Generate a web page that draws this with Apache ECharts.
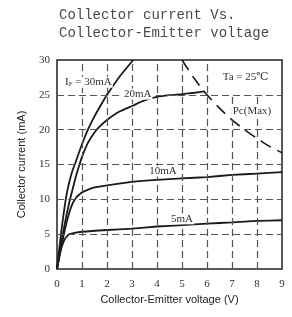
<!DOCTYPE html>
<html>
<head>
<meta charset="utf-8">
<script src="https://cdn.jsdelivr.net/npm/echarts@6/dist/echarts.min.js"></script>
<style>
  html, body { margin: 0; padding: 0; background: #fff; }
  #main { width: 292px; height: 317px; }
</style>
</head>
<body>
<div id="main"></div>
<script>
// Ic - Vce curves
var curve30 = [[0, 0], [0.1, 3.2], [0.2, 6.2], [0.3, 8.8], [0.4, 11], [0.5, 12.6], [0.6, 13.9], [0.75, 15.4], [1.0, 17.9], [1.25, 20.1], [1.5, 21.9], [1.75, 23.5], [2.0, 25], [2.5, 27.6], [3.05, 30]];
var curve20 = [[0, 0], [0.1, 2.2], [0.2, 4.3], [0.3, 6.3], [0.4, 8.1], [0.5, 9.7], [0.6, 11.1], [0.75, 13.2], [0.9, 15], [1.0, 16.1], [1.25, 18.2], [1.5, 19.6], [1.75, 20.6], [2.0, 21.4], [2.5, 22.6], [3.0, 23.4], [3.5, 24.2], [4.0, 24.7], [4.5, 24.95], [5.0, 25.1], [5.5, 25.3], [5.9, 25.5]];
var curve10 = [[0, 0], [0.1, 1.9], [0.2, 3.7], [0.3, 5.4], [0.4, 6.9], [0.5, 8.2], [0.6, 9.2], [0.7, 9.9], [0.8, 10.4], [0.9, 10.7], [1, 11], [1.25, 11.4], [1.5, 11.7], [2, 12], [3, 12.5], [4, 12.8], [5, 13], [6, 13.2], [7, 13.5], [8, 13.7], [9, 13.9]];
var curve5 = [[0, 0], [0.05, 1], [0.1, 1.9], [0.15, 2.7], [0.2, 3.3], [0.3, 4.2], [0.4, 4.7], [0.5, 5.0], [0.7, 5.2], [1, 5.35], [2, 5.6], [3, 5.8], [4, 6.1], [5, 6.3], [6, 6.5], [7, 6.7], [8, 6.9], [9, 7.0]];
var pcMax = [[5, 30], [5.5, 27.3], [6, 25], [6.5, 23.1], [7, 21.4], [7.5, 20], [8, 18.75], [8.5, 17.6], [9, 16.7]];

// dashed grid: vertical lines and where they stop at the top
var gridX = [1, 2, 3, 4, 5, 6, 7, 8];
var gridXTop = [30, 30, 30, 30, 30, 30, 25, 25];
var gridY = [5, 10, 15, 20, 25];

var serif = '"Liberation Serif", "DejaVu Serif", serif';
var sans = '"Liberation Sans", Arial, sans-serif';

var myChart = echarts.init(document.getElementById('main'));

var gridStyle = { color: '#555', type: [7, 4], width: 1.2 };
var vLines = gridX.map(function (x, i) {
    return [{ coord: [x, 0] }, { coord: [x, gridXTop[i]] }];
});
var hLines = gridY.map(function (y) {
    return [{ coord: [0, y] }, { coord: [9, y] }];
});

function curve(data) {
    return {
        type: 'line',
        data: data,
        smooth: 0.2,
        showSymbol: false,
        lineStyle: { color: '#1a1a1a', width: 1.8 },
        z: 3
    };
}

myChart.setOption({
    backgroundColor: '#ffffff',
    animation: false,
    grid: {
        left: 57, right: 10, top: 60, bottom: 48,
        show: true, borderColor: '#222', borderWidth: 1.5
    },
    xAxis: {
        type: 'value', min: 0, max: 9, interval: 1,
        name: 'Collector-Emitter voltage (V)',
        nameLocation: 'middle', nameGap: 24,
        nameTextStyle: { fontFamily: sans, fontSize: 11, color: '#222' },
        axisLine: { show: false },
        axisTick: { show: false },
        splitLine: { show: false },
        axisLabel: { fontFamily: serif, fontSize: 11, color: '#333', margin: 10 }
    },
    yAxis: {
        type: 'value', min: 0, max: 30, interval: 5,
        name: 'Collector current (mA)',
        nameLocation: 'middle', nameGap: 30,
        nameTextStyle: { fontFamily: sans, fontSize: 11, color: '#222' },
        axisLine: { show: false },
        axisTick: { show: false },
        splitLine: { show: false },
        axisLabel: { fontFamily: serif, fontSize: 11, color: '#333', margin: 7 }
    },
    series: [
        {
            type: 'line', data: [], z: 1,
            markLine: {
                silent: true, symbol: 'none', label: { show: false },
                lineStyle: gridStyle,
                data: vLines.concat(hLines)
            }
        },
        curve(curve30),
        curve(curve20),
        curve(curve10),
        curve(curve5),
        {
            type: 'line',
            data: pcMax,
            smooth: 0.3,
            showSymbol: false,
            lineStyle: { color: '#1a1a1a', width: 1.6, type: [12, 7] },
            z: 3
        }
    ]
});

// curve labels placed in data space (left edge, vertical centre)
var labels = [
    { at: [0.28, 26.8], text: '{b|I}{s|F}{b| = 30mA}' },
    { at: [2.64, 25.1], text: '{b|20mA}' },
    { at: [3.65, 14.05], text: '{b|10mA}' },
    { at: [4.52, 7.2], text: '{b|5mA}' },
    { at: [6.59, 27.6], text: '{b|Ta = 25℃}' },
    { at: [6.99, 22.7], text: '{b|Pc(Max)}' }
];
var rich = {
    b: { fontFamily: serif, fontSize: 11, fill: '#333' },
    s: { fontFamily: serif, fontSize: 7, fill: '#333', padding: [4, 0, 0, 0] }
};
var graphics = [{
    type: 'text', left: 59, top: 6,
    style: {
        text: 'Collector current Vs.\nCollector-Emitter voltage',
        fontFamily: '"Liberation Mono", "DejaVu Sans Mono", monospace',
        fontSize: 14, lineHeight: 18, fill: '#4a4a4a'
    }
}];
labels.forEach(function (l) {
    var p = myChart.convertToPixel({ gridIndex: 0 }, l.at);
    graphics.push({
        type: 'text', x: p[0], y: p[1], z: 10,
        style: {
            text: l.text, rich: rich, verticalAlign: 'middle',
            backgroundColor: '#fff', padding: [0, 1]
        }
    });
});
myChart.setOption({ graphic: graphics });
</script>
</body>
</html>
